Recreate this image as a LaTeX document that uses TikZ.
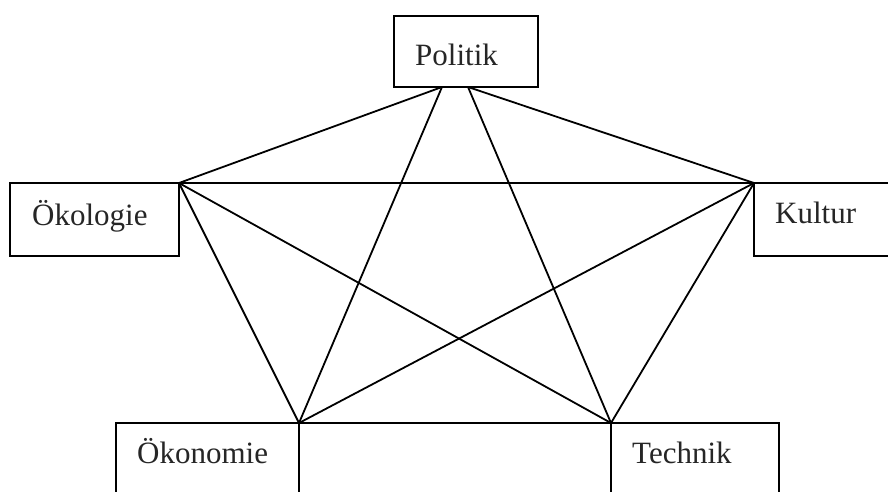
\documentclass[tikz,border=0pt]{standalone}
\usepackage{fontspec}
\setmainfont{Liberation Serif}
\begin{document}
\begin{tikzpicture}[x=1pt,y=-1pt,
  box/.style={draw=black,line width=1.8pt,minimum width=#1,anchor=north west,inner sep=0pt,outer sep=0pt},
  lbl/.style={anchor=base west,inner sep=0pt,text=black!85,font=\fontsize{31}{31}\selectfont},
  edge/.style={line width=1.8pt,line cap=round}]
\useasboundingbox (0,0) rectangle (888,491);
\fill[white] (0,0) rectangle (888,491);
\clip (0,0) rectangle (888,491);
% boxes
\node[box=144pt,minimum height=71pt] (pol) at (394,16) {};
\node[box=169pt,minimum height=73pt] (oeko) at (10,183) {};
\node[box=160pt,minimum height=73pt] (kult) at (754,183) {};
\node[box=183pt,minimum height=90pt] (oekon) at (116,423) {};
\node[box=168pt,minimum height=90pt] (tech) at (611,423) {};
% labels
\node[lbl] (tpol) at (415,65) {Politik};
\node[lbl] (toeko) at (32,225) {Ökologie};
\node[lbl] (tkult) at (775,223) {Kultur};
\node[lbl] (toekon) at (137,463) {Ökonomie};
\node[lbl] (ttech) at (632,463) {Technik};
% anchor points
\coordinate (pl) at (442,87);
\coordinate (pr) at (468,87);
% connectors
\draw[edge] (pl) -- (oeko.north east);
\draw[edge] (pl) -- (oekon.north east);
\draw[edge] (pr) -- (kult.north west);
\draw[edge] (pr) -- (tech.north west);
\draw[edge] (oeko.north east) -- (kult.north west);
\draw[edge] (oeko.north east) -- (oekon.north east);
\draw[edge] (oeko.north east) -- (tech.north west);
\draw[edge] (kult.north west) -- (oekon.north east);
\draw[edge] (kult.north west) -- (tech.north west);
\draw[edge] (oekon.north east) -- (tech.north west);
\end{tikzpicture}
\end{document}
